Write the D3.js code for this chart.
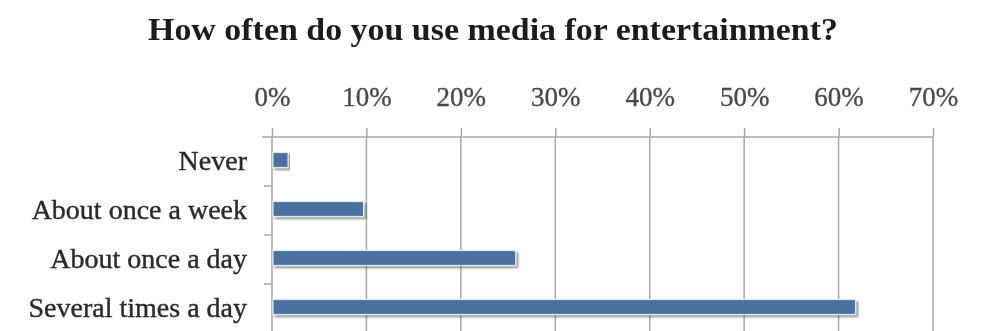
<!DOCTYPE html>
<html>
<head>
<meta charset="utf-8">
<script src="https://cdn.jsdelivr.net/npm/d3@7"></script>
<style>
  html, body { margin: 0; padding: 0; background: #fff; }
  svg { display: block; }
</style>
</head>
<body>
<svg id="chart" width="982" height="331"></svg>
<script>
// Survey answers, top to bottom
const categories = ["Never", "About once a week", "About once a day", "Several times a day"];
// Share of respondents, in percent
const shares = [1.7, 9.7, 25.8, 61.8];
// Axis ticks along the top
const tickValues = [0, 10, 20, 30, 40, 50, 60, 70];
const tickLabels = ["0%", "10%", "20%", "30%", "40%", "50%", "60%", "70%"];
const chartTitle = "How often do you use media for entertainment?";

const svg = d3.select("#chart");
const plot = { left: 272, right: 933, top: 137, bottom: 333 };

const x = d3.scaleLinear().domain([0, 70]).range([plot.left, plot.right]);
const y = d3.scaleBand().domain(categories).range([plot.top, plot.bottom]);

const defs = svg.append("defs");
const shadow = defs.append("filter").attr("id", "barShadow")
  .attr("x", "-5%").attr("y", "-30%").attr("width", "115%").attr("height", "180%");
shadow.append("feGaussianBlur").attr("in", "SourceAlpha").attr("stdDeviation", 1.3).attr("result", "b");
shadow.append("feOffset").attr("in", "b").attr("dx", 1.5).attr("dy", 2).attr("result", "o");
shadow.append("feComponentTransfer").attr("in", "o").attr("result", "s")
  .append("feFuncA").attr("type", "linear").attr("slope", 0.45);
const merge = shadow.append("feMerge");
merge.append("feMergeNode").attr("in", "s");
merge.append("feMergeNode").attr("in", "SourceGraphic");

const soft = defs.append("filter").attr("id", "soft");
soft.append("feGaussianBlur").attr("stdDeviation", 0.45);

// Title
svg.append("text")
  .attr("x", 148).attr("y", 40)
  .attr("textLength", 690).attr("lengthAdjust", "spacingAndGlyphs")
  .attr("font-family", "'Liberation Serif', serif")
  .attr("font-weight", "bold").attr("font-size", 31)
  .attr("fill", "#1e1e1e")
  .attr("filter", "url(#soft)")
  .text(chartTitle);

const gridColor = "#a9a9a9";

// Vertical gridlines
svg.append("g").selectAll("line").data(tickValues.slice(1)).join("line")
  .attr("x1", d => x(d)).attr("x2", d => x(d))
  .attr("y1", plot.top).attr("y2", plot.bottom)
  .attr("stroke", gridColor).attr("stroke-width", 1.5);

// Top axis
const xAxis = d3.axisTop(x).tickValues(tickValues)
  .tickFormat((d, i) => tickLabels[i]).tickSize(9).tickPadding(22).tickSizeOuter(0);
const gx = svg.append("g").attr("transform", `translate(0,${plot.top})`).call(xAxis);
gx.select(".domain").remove();
gx.selectAll(".tick line").attr("stroke", gridColor).attr("stroke-width", 1.5);
gx.selectAll(".tick text")
  .attr("font-family", "'Liberation Serif', serif")
  .attr("font-size", 27).attr("fill", "#4a4a4a")
  .attr("stroke", "#4a4a4a").attr("stroke-width", 0.35)
  .attr("filter", "url(#soft)");
svg.append("line")
  .attr("x1", plot.left - 10).attr("x2", plot.right)
  .attr("y1", plot.top).attr("y2", plot.top)
  .attr("stroke", gridColor).attr("stroke-width", 1.5);

// Left category axis
svg.append("line")
  .attr("x1", plot.left).attr("x2", plot.left)
  .attr("y1", plot.top).attr("y2", plot.bottom)
  .attr("stroke", gridColor).attr("stroke-width", 1.5);
svg.append("g").selectAll("line").data(categories.slice(1)).join("line")
  .attr("x1", plot.left - 8).attr("x2", plot.left)
  .attr("y1", d => y(d)).attr("y2", d => y(d))
  .attr("stroke", gridColor).attr("stroke-width", 1.5);
svg.append("g").selectAll("text").data(categories).join("text")
  .attr("x", 247)
  .attr("y", d => y(d) + y.bandwidth() / 2 + 8)
  .attr("text-anchor", "end")
  .attr("font-family", "'Liberation Serif', serif")
  .attr("font-size", 28).attr("fill", "#2a2a2a")
  .attr("stroke", "#2a2a2a").attr("stroke-width", 0.4)
  .attr("filter", "url(#soft)")
  .text(d => d);

// Bars
const barH = 15;
svg.append("g").selectAll("rect").data(categories).join("rect")
  .attr("x", x(0) + 1)
  .attr("y", d => y(d) + y.bandwidth() / 2 - barH / 2 - 1.5)
  .attr("width", (d, i) => x(shares[i]) - x(0) - 1)
  .attr("height", barH)
  .attr("fill", "#4a72a0")
  .attr("stroke", "#dce8f4").attr("stroke-width", 1.2)
  .attr("filter", "url(#barShadow)");
</script>
</body>
</html>
